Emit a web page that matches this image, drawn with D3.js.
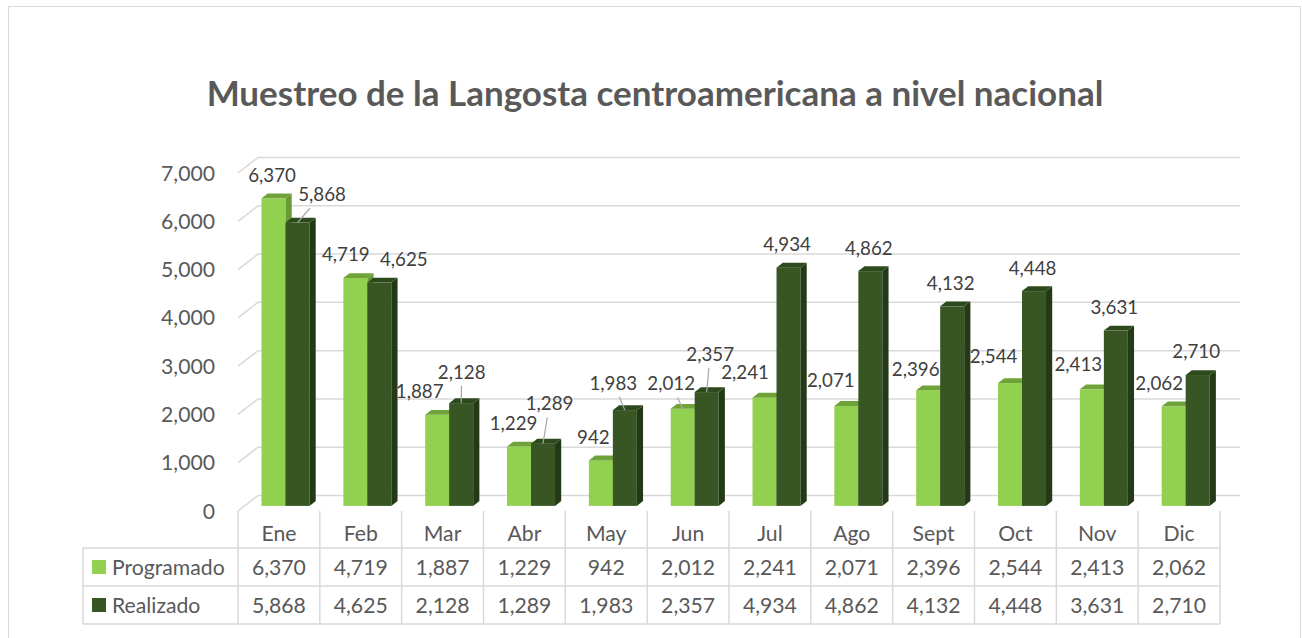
<!DOCTYPE html>
<html>
<head>
<meta charset="utf-8">
<script src="https://cdn.jsdelivr.net/npm/d3@7"></script>
<style>
  body { margin: 0; background: #fff; }
  svg text { font-family: Lato, "Open Sans", sans-serif; }
</style>
</head>
<body>
<div id="chart"></div>
<script>
const months = ["Ene", "Feb", "Mar", "Abr", "May", "Jun", "Jul", "Ago", "Sept", "Oct", "Nov", "Dic"];
const seriesNames = ["Programado", "Realizado"];
const programado = [6370, 4719, 1887, 1229, 942, 2012, 2241, 2071, 2396, 2544, 2413, 2062];
const realizado = [5868, 4625, 2128, 1289, 1983, 2357, 4934, 4862, 4132, 4448, 3631, 2710];
const yTicks = [0, 1000, 2000, 3000, 4000, 5000, 6000, 7000];
const title = "Muestreo de la Langosta centroamericana a nivel nacional";

// manual label moves (like dragged labels in the original), [dx, dy, leader]
const nudgeProgramado = [[0, 0, 0], [-8, 0, 0], [-16, 0, 0], [-4, 0, 0], [-6, 0, 0], [-10, -2, 1],
  [-18, -2, 0], [-14, -2, 0], [-11, 2, 0], [-15, -3, 0], [-12, -2, 0], [-13, 0, 0]];
const nudgeRealizado = [[26, -5, 1], [26, 0, 0], [2, -8, 1], [8, -17, 1], [-10, -4, 1], [5, -15, 1],
  [0, 0, 0], [0, 0, 0], [0, 0, 0], [0, 0, 0], [0, 0, 0], [0, 0, 0]];

const drawChart = () => {
  const width = 1302;
  const height = 638;
  const textColor = "#595959";
  const gridColor = "#d9d9d9";

  const colors = {
    Programado: { front: "#92d050", top: "#6fa33a", side: "#6a9a36" },
    Realizado: { front: "#375623", top: "#2d4a1c", side: "#243a16" }
  };

  const svg = d3
    .select("#chart")
    .append("svg")
    .attr("width", width)
    .attr("height", height);

  // font sizes fitted to the widths seen in the picture
  const measure = (txt, size, weight) => {
    const t = svg.append("text").attr("font-size", size).attr("font-weight", weight).text(txt);
    const w = t.node().getComputedTextLength();
    t.remove();
    return w;
  };
  const tableSize = 100 * 54 / measure("6,370", 100, "normal");
  const labelSize = 100 * 47.7 / measure("6,370", 100, "normal");
  const titleSize = 100 * 897 / measure(title, 100, "bold");

  svg
    .append("rect")
    .attr("x", 8.5)
    .attr("y", 6.5)
    .attr("width", 1292)
    .attr("height", 640)
    .attr("fill", "#fff")
    .attr("stroke", gridColor);

  svg
    .append("text")
    .attr("x", 655)
    .attr("y", 106)
    .attr("text-anchor", "middle")
    .attr("font-size", titleSize)
    .attr("font-weight", "bold")
    .attr("fill", textColor)
    .text(title);

  const x = d3.scaleBand().domain(months).range([238, 1220]);
  const y = d3.scaleLinear().domain([0, 7000]).range([511, 173]);
  const xs = d3.scaleBand().domain(seriesNames).range([-24, 24]);

  // oblique depth: full floor depth, and the slab the bars sit in
  const wallDx = 20, wallDy = -15.5;
  const f0 = 0.33, f1 = 0.64;
  const bdx = wallDx * (f1 - f0), bdy = wallDy * (f1 - f0);

  // side wall + back wall gridlines
  const grid = svg.append("g").attr("stroke", gridColor).attr("stroke-width", 1.5).attr("fill", "none");
  yTicks.forEach((t) => {
    grid
      .append("polyline")
      .attr("points", [
        [238, y(t)],
        [238 + wallDx, y(t) + wallDy],
        [1220 + wallDx, y(t) + wallDy]
      ].join(" "));
  });

  svg
    .append("g")
    .selectAll("text")
    .data(yTicks)
    .enter()
    .append("text")
    .attr("x", 215)
    .attr("y", (d) => y(d) + tableSize * 0.36)
    .attr("text-anchor", "end")
    .attr("font-size", tableSize)
    .attr("fill", textColor)
    .text((d) => d3.format(",")(d));

  const series = [
    { name: "Programado", values: programado, nudge: nudgeProgramado },
    { name: "Realizado", values: realizado, nudge: nudgeRealizado }
  ];

  const bars = [];
  months.forEach((m, i) => {
    series.forEach((s) => {
      const v = s.values[i];
      const x1 = x(m) + x.bandwidth() / 2 + xs(s.name) + wallDx * f0;
      const x2 = x1 + xs.bandwidth();
      const yt = y(v) + wallDy * f0;
      const yb = y(0) + wallDy * f0;
      bars.push({ name: s.name, v, x1, x2, yt, yb, nudge: s.nudge[i] });
    });
  });

  const barG = svg.append("g");
  bars.forEach((b) => {
    const c = colors[b.name];
    const g = barG.append("g");
    g.append("rect")
      .attr("x", b.x1)
      .attr("y", b.yt)
      .attr("width", b.x2 - b.x1)
      .attr("height", b.yb - b.yt)
      .attr("fill", c.front);
    g.append("polygon")
      .attr("points", [[b.x2, b.yt], [b.x2 + bdx, b.yt + bdy], [b.x2 + bdx, b.yb + bdy], [b.x2, b.yb]].join(" "))
      .attr("fill", c.side);
    g.append("polygon")
      .attr("points", [[b.x1, b.yt], [b.x2, b.yt], [b.x2 + bdx, b.yt + bdy], [b.x1 + bdx, b.yt + bdy]].join(" "))
      .attr("fill", c.top);
  });

  // data labels
  const labelG = svg.append("g");
  bars.forEach((b) => {
    const tx = (b.x1 + b.x2) / 2;
    const lx = tx - 1.5 + b.nudge[0];
    const ly = b.yt - 23.3 + b.nudge[1];
    if (b.nudge[2]) {
      const sy = ly + 14;
      const sx = lx + (tx - lx) * (14 / (b.yt - ly));
      labelG
        .append("line")
        .attr("x1", sx)
        .attr("y1", sy)
        .attr("x2", tx)
        .attr("y2", b.yt)
        .attr("stroke", "#a6a6a6")
        .attr("stroke-width", 1.2);
    }
    labelG
      .append("text")
      .attr("x", lx)
      .attr("y", ly + labelSize * 0.36)
      .attr("text-anchor", "middle")
      .attr("font-size", labelSize)
      .attr("fill", "#404040")
      .text(d3.format(",")(b.v));
  });

  // data table
  const rows = [511, 548, 586, 624];
  const table = svg.append("g").attr("stroke", gridColor).attr("stroke-width", 1.5);
  rows.slice(1).forEach((r) => {
    table.append("line").attr("x1", 83).attr("x2", 1220).attr("y1", r).attr("y2", r);
  });
  table.append("line").attr("x1", 83).attr("x2", 83).attr("y1", 548).attr("y2", 624);
  months.concat(["end"]).forEach((m, i) => {
    const xx = 238 + i * x.bandwidth();
    table.append("line").attr("x1", xx).attr("x2", xx).attr("y1", 511).attr("y2", 624);
  });

  const cellText = (txt, cx, cy, anchor) =>
    svg
      .append("text")
      .attr("x", cx)
      .attr("y", cy + tableSize * 0.36)
      .attr("text-anchor", anchor)
      .attr("font-size", tableSize)
      .attr("fill", textColor)
      .text(txt);

  months.forEach((m, i) => {
    const cx = x(m) + x.bandwidth() / 2;
    cellText(m, cx, 533, "middle");
    cellText(d3.format(",")(programado[i]), cx, 567, "middle");
    cellText(d3.format(",")(realizado[i]), cx, 605, "middle");
  });

  series.forEach((s, k) => {
    const cy = k === 0 ? 567 : 605;
    svg
      .append("rect")
      .attr("x", 92)
      .attr("y", cy - 7)
      .attr("width", 14)
      .attr("height", 14)
      .attr("fill", colors[s.name].front);
    cellText(s.name, 112, cy, "start");
  });
};

drawChart();
</script>
</body>
</html>
